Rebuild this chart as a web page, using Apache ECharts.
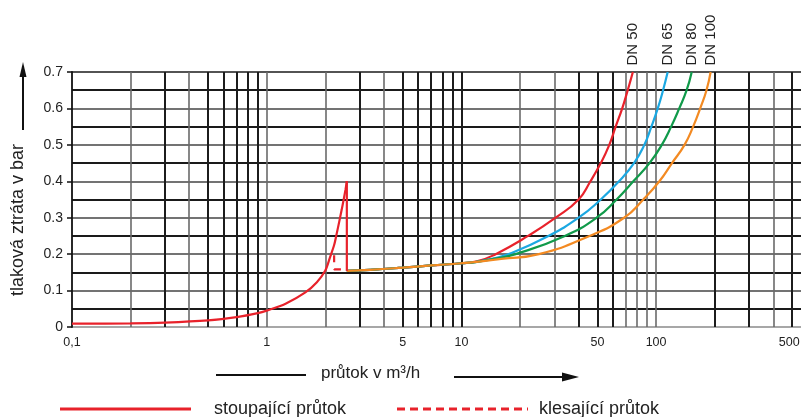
<!DOCTYPE html>
<html><head><meta charset="utf-8">
<script src="https://cdn.jsdelivr.net/npm/echarts@6/dist/echarts.min.js"></script>
<style>html,body{margin:0;padding:0;background:#fff}#c{width:801px;height:417px}</style>
</head><body><div id="c"></div>
<script>
// ---- data ----
const risingQ = [0.1, 0.2, 0.3, 0.5, 0.7, 0.9, 1.0, 1.25, 1.58, 1.81, 2.0, 2.11, 2.22, 2.29, 2.43, 2.54, 2.58];
const risingV = [0.009, 0.010, 0.012, 0.018, 0.027, 0.038, 0.045, 0.064, 0.095, 0.123, 0.155, 0.19, 0.225, 0.257, 0.323, 0.377, 0.4];
const dropQ = [2.58, 2.58];
const dropV = [0.4, 0.154];
const fallingQ = [2.22, 2.22, 2.58];
const fallingV = [0.197, 0.158, 0.158];

const dn50Q = [2.58, 3.4, 5, 7, 10, 12, 15, 22, 30.5, 40, 46, 52, 57.5, 62, 67, 71.5, 76];
const dn50V = [0.154, 0.157, 0.163, 0.169, 0.175, 0.18, 0.2, 0.25, 0.3, 0.35, 0.4, 0.45, 0.5, 0.55, 0.6, 0.65, 0.7];
const dn65Q = [2.58, 3.4, 5, 7, 10, 12, 14.5, 17.5, 28, 40, 52, 64.5, 77, 87, 94.6, 102, 108.6, 114.7];
const dn65V = [0.154, 0.157, 0.163, 0.169, 0.175, 0.179, 0.188, 0.2, 0.25, 0.3, 0.35, 0.4, 0.45, 0.5, 0.55, 0.6, 0.65, 0.7];
const dn80Q = [2.58, 3.4, 5, 7, 10, 12, 15, 19, 34, 49.5, 62.7, 76.4, 92.5, 107, 119.5, 131.5, 143.5, 152.4];
const dn80V = [0.154, 0.157, 0.163, 0.169, 0.175, 0.179, 0.188, 0.2, 0.25, 0.3, 0.35, 0.4, 0.45, 0.5, 0.55, 0.6, 0.65, 0.7];
const dn100Q = [2.58, 3.4, 5, 7, 10, 12, 16, 25, 45.5, 68.5, 86, 104, 120.7, 140, 155, 168.5, 181.5, 190.6];
const dn100V = [0.154, 0.157, 0.163, 0.169, 0.175, 0.179, 0.187, 0.2, 0.25, 0.3, 0.35, 0.4, 0.45, 0.5, 0.55, 0.6, 0.65, 0.7];

const gridDark = [0.3, 0.5, 0.6, 0.7, 0.8, 0.9, 3, 5, 6, 7, 8, 9, 10, 40, 50, 60, 200, 300, 500];
const gridLight = [0.2, 0.4, 1, 2, 4, 20, 30, 70, 80, 90, 100, 400];
const xTickValues = [0.1, 1, 5, 10, 50, 100, 500];
const xTickLabels = ['0,1', '1', '5', '10', '50', '100', '500'];
const yTickLabels = ['0', '0.1', '0.2', '0.3', '0.4', '0.5', '0.6', '0.7'];

const FONT = '"Liberation Sans", Arial, Helvetica, sans-serif';
const RED = '#e8222b', BLUE = '#1ba8e2', GREEN = '#109a4a', ORANGE = '#f38a22';

const zip = (a, b) => a.map((v, i) => [v, b[i]]);

function dnSeries(name, q, v, color) {
  return {
    type: 'line', name: name, data: zip(q, v), smooth: 0.5, symbol: 'none',
    lineStyle: { color: color, width: 2.2 }, z: 5,
    markPoint: {
      symbol: 'circle', symbolSize: 1, silent: true,
      itemStyle: { color: 'rgba(0,0,0,0)' },
      data: [{ coord: [q[q.length - 1], v[v.length - 1]] }],
      label: {
        show: true, formatter: name, position: 'top', distance: 6, rotate: 90,
        align: 'left', verticalAlign: 'middle', color: '#222', fontSize: 15, fontFamily: FONT
      }
    }
  };
}

const gridLines = [];
gridDark.forEach(v => gridLines.push({ xAxis: v, lineStyle: { color: '#1c1c1c', width: 2, type: 'solid' } }));
gridLight.forEach(v => gridLines.push({ xAxis: v, lineStyle: { color: '#6a6a6a', width: 1.6, type: 'solid' } }));

const chart = echarts.init(document.getElementById('c'), null, { renderer: 'canvas' });
chart.setOption({
  animation: false,
  backgroundColor: '#fff',
  grid: { left: 72, right: 0, top: 72, bottom: 90, containLabel: false },
  xAxis: {
    type: 'log', min: 0.1, max: 555, logBase: 10,
    axisLine: { show: false }, axisTick: { show: false }, axisLabel: { show: false },
    splitLine: { show: false }
  },
  yAxis: {
    type: 'value', min: 0, max: 0.7, interval: 0.1,
    axisLine: { show: true, lineStyle: { color: '#111', width: 1.8 } },
    axisTick: { show: true, length: 5, lineStyle: { color: '#111', width: 1.5 } },
    axisLabel: {
      margin: 9, color: '#222', fontSize: 14, fontFamily: FONT,
      formatter: (val) => yTickLabels[Math.round(val * 10)]
    },
    splitLine: { show: true, lineStyle: { color: ['#8a8a8a', '#454545', '#454545', '#454545', '#454545', '#454545', '#454545', '#1a1a1a'], width: 1.6 } },
    minorTick: { show: false, splitNumber: 2 },
    minorSplitLine: { show: true, lineStyle: { color: '#1a1a1a', width: 2 } }
  },
  series: [
    {
      type: 'line', name: 'grid', data: [], silent: true, z: 1,
      markLine: { silent: true, symbol: 'none', animation: false, label: { show: false }, data: gridLines }
    },
    {
      type: 'line', name: 'ticks', data: [], silent: true, z: 1,
      markLine: {
        silent: true, symbol: 'none', animation: false,
        lineStyle: { width: 1, color: 'rgba(0,0,0,0)' },
        label: { show: true, position: 'start', distance: 9, color: '#222', fontSize: 12.5, fontFamily: FONT },
        data: xTickValues.map((v, i) => ({ xAxis: v, label: { show: true, formatter: xTickLabels[i], offset: i === xTickValues.length - 1 ? [-3, 0] : [0, 0] } }))
      }
    },
    dnSeries('DN 50', dn50Q, dn50V, RED),
    dnSeries('DN 65', dn65Q, dn65V, BLUE),
    dnSeries('DN 80', dn80Q, dn80V, GREEN),
    dnSeries('DN 100', dn100Q, dn100V, ORANGE),
    {
      type: 'line', name: 'stoupající průtok', data: zip(risingQ, risingV), smooth: 0.3, symbol: 'none',
      lineStyle: { color: RED, width: 2.2 }, z: 6
    },
    {
      type: 'line', name: 'stoupající průtok drop', data: zip(dropQ, dropV), symbol: 'none',
      lineStyle: { color: RED, width: 2.2 }, z: 6
    },
    {
      type: 'line', name: 'klesající průtok', data: zip(fallingQ, fallingV), symbol: 'none',
      lineStyle: { color: RED, width: 2.2, type: [7, 7] }, z: 6
    }
  ],
  graphic: [
    { type: 'text', x: 18, y: 220, rotation: Math.PI / 2, silent: true,
      style: { text: 'tlaková ztráta v bar', font: '18px ' + FONT, fill: '#222', align: 'center', verticalAlign: 'middle' } },
    { type: 'line', silent: true, shape: { x1: 23, y1: 130, x2: 23, y2: 74 }, style: { stroke: '#111', lineWidth: 2 } },
    { type: 'polygon', silent: true, shape: { points: [[23, 62], [19.5, 77], [26.5, 77]] }, style: { fill: '#111' } },

    { type: 'line', silent: true, shape: { x1: 216, y1: 375, x2: 306, y2: 375 }, style: { stroke: '#111', lineWidth: 2 } },
    { type: 'text', x: 321, y: 373, silent: true,
      style: { text: 'průtok v m³/h', font: '17px ' + FONT, fill: '#222', align: 'left', verticalAlign: 'middle' } },
    { type: 'line', silent: true, shape: { x1: 454, y1: 377, x2: 566, y2: 377 }, style: { stroke: '#111', lineWidth: 2 } },
    { type: 'polygon', silent: true, shape: { points: [[579, 377], [562, 372.5], [562, 381.5]] }, style: { fill: '#111' } },

    { type: 'line', silent: true, shape: { x1: 60, y1: 409, x2: 191, y2: 409 }, style: { stroke: RED, lineWidth: 3 } },
    { type: 'text', x: 214, y: 409, silent: true,
      style: { text: 'stoupající průtok', font: '18px ' + FONT, fill: '#222', align: 'left', verticalAlign: 'middle' } },
    { type: 'line', silent: true, shape: { x1: 397, y1: 409, x2: 528, y2: 409 }, style: { stroke: RED, lineWidth: 3, lineDash: [8, 5] } },
    { type: 'text', x: 539, y: 409, silent: true,
      style: { text: 'klesající průtok', font: '18px ' + FONT, fill: '#222', align: 'left', verticalAlign: 'middle' } }
  ]
});
</script>
</body></html>
